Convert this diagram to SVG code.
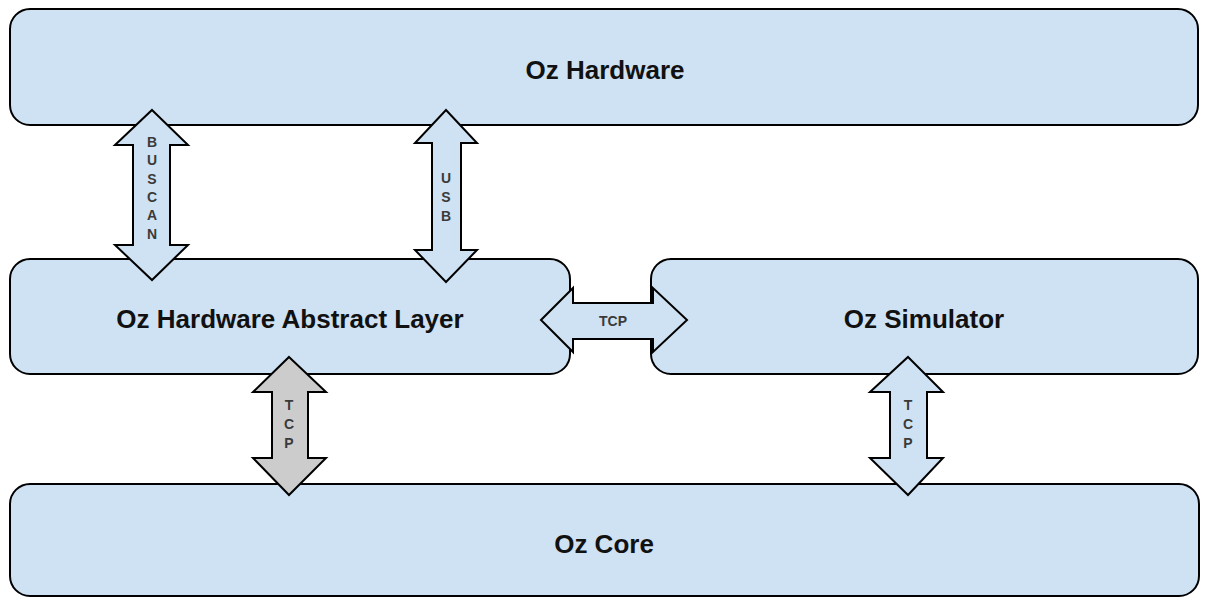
<svg xmlns="http://www.w3.org/2000/svg" width="1208" height="598" viewBox="0 0 1208 598">
  <style>
    .box { fill: #cfe2f3; stroke: #000; stroke-width: 2; }
    .arrow { fill: #cfe2f3; stroke: #000; stroke-width: 2; stroke-linejoin: miter; }
    .arrow.gray { fill: #cccccc; }
    .title { font-family: "Liberation Sans", Arial, sans-serif; font-weight: bold; font-size: 26px; fill: #111; text-anchor: middle; dominant-baseline: central; }
    .lbl { font-family: "Liberation Sans", Arial, sans-serif; font-weight: bold; font-size: 14px; fill: #3a3a3a; text-anchor: middle; dominant-baseline: central; }
  </style>
  <rect width="1208" height="598" fill="#fff"/>

  <g id="oz-hardware">
    <rect class="box" x="10" y="9" width="1188" height="116" rx="20"/>
    <text class="title" x="605" y="70">Oz Hardware</text>
  </g>
  <g id="oz-hal">
    <rect class="box" x="10" y="259" width="560" height="115" rx="20"/>
    <text class="title" x="290" y="319">Oz Hardware Abstract Layer</text>
  </g>
  <g id="oz-simulator">
    <rect class="box" x="651" y="259" width="547" height="115" rx="20"/>
    <text class="title" x="924" y="319">Oz Simulator</text>
  </g>
  <g id="oz-core">
    <rect class="box" x="10" y="484" width="1189" height="112" rx="20"/>
    <text class="title" x="604" y="544">Oz Core</text>
  </g>

  <g id="connectors">
    <g id="buscan">
      <polygon class="arrow" points="152,110 188,145 170,145 170,245 188,245 152,280 115,245 133,245 133,145 115,145"/>
      <text class="lbl" x="152" y="142">B</text>
      <text class="lbl" x="152" y="160">U</text>
      <text class="lbl" x="152" y="179">S</text>
      <text class="lbl" x="152" y="197">C</text>
      <text class="lbl" x="152" y="215">A</text>
      <text class="lbl" x="152" y="234">N</text>
    </g>
    <g id="usb">
      <polygon class="arrow" points="446,110 477,143 461,143 461,250 477,250 446,282 415,250 432,250 432,143 415,143"/>
      <text class="lbl" x="446" y="178">U</text>
      <text class="lbl" x="446" y="197">S</text>
      <text class="lbl" x="446" y="216">B</text>
    </g>
    <g id="tcp-hal-sim">
      <polygon class="arrow" points="541,320 573,288 573,303 653,303 653,288 687,320 653,352 653,339 573,339 573,352"/>
      <text class="lbl" x="613" y="321">TCP</text>
    </g>
    <g id="tcp-hal-core">
      <polygon class="arrow gray" points="289,357 326,392 308,392 308,458 326,458 289,495 253,458 272,458 272,392 253,392"/>
      <text class="lbl" x="289" y="405">T</text>
      <text class="lbl" x="289" y="424">C</text>
      <text class="lbl" x="289" y="443">P</text>
    </g>
    <g id="tcp-sim-core">
      <polygon class="arrow" points="908,357 943,392 927,392 927,458 943,458 908,495 870,458 890,458 890,392 870,392"/>
      <text class="lbl" x="908" y="405">T</text>
      <text class="lbl" x="908" y="424">C</text>
      <text class="lbl" x="908" y="443">P</text>
    </g>
  </g>
</svg>
